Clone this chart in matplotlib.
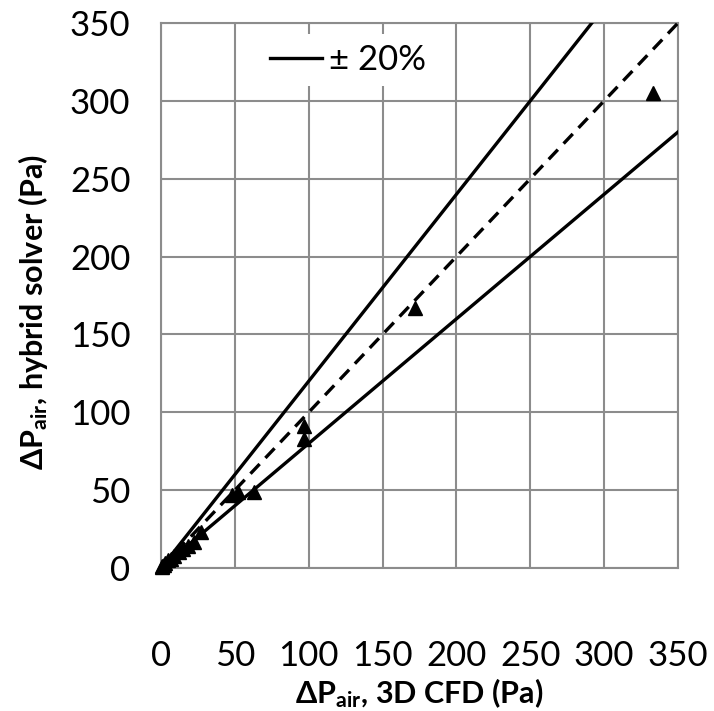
import numpy as np
import matplotlib.pyplot as plt

plt.rcParams['font.family'] = ['Lato', 'DejaVu Sans']
plt.rcParams['mathtext.fontset'] = 'custom'
plt.rcParams['mathtext.rm'] = 'Lato'
plt.rcParams['mathtext.bf'] = 'Lato:bold'

# pressure drop: 3D CFD vs hybrid solver (Pa)
cfd = [0.5, 1, 2, 3, 5, 7, 9, 12, 15, 18, 22, 27, 48, 52, 63, 97, 97, 172, 333]
hybrid = [0.5, 1, 2, 3, 5, 6, 8, 10, 12, 14, 17, 23, 47, 49, 49, 83, 91, 167, 305]
ticks = [0, 50, 100, 150, 200, 250, 300, 350]

fig = plt.figure(figsize=(7.14, 7.11), dpi=100)
ax = fig.add_axes([0.2255, 0.2011, 0.7241, 0.7666])

grid_c = '#8c8c8c'
ax.set_xlim(0, 350)
ax.set_ylim(0, 350)
ax.set_xticks(ticks)
ax.set_yticks(ticks)
ax.grid(True, color=grid_c, lw=1.5, zorder=0)
ax.set_axisbelow(True)
for s in ax.spines.values():
    s.set_color(grid_c)
    s.set_linewidth(1.5)
ax.tick_params(length=0, labelsize=25)
ax.tick_params(axis='x', pad=52)
ax.tick_params(axis='y', pad=22)

xl = np.array([0, 350])
ax.plot(xl, xl, 'k--', lw=2.4, dashes=(4, 2.5), zorder=3)
ax.plot(xl, 1.2 * xl, 'k-', lw=2.4, zorder=3, label='± 20%')
ax.plot(xl, 0.8 * xl, 'k-', lw=2.4, zorder=3)
ax.plot(cfd, hybrid, '^', color='black', ms=10, ls='none', zorder=4, clip_on=False)

leg = ax.legend(loc='center', bbox_to_anchor=(0.362, 0.932), fontsize=25,
                handlelength=1.5, handletextpad=0.2, frameon=True,
                fancybox=False, borderpad=0.3)
leg.get_frame().set_facecolor('white')
leg.get_frame().set_edgecolor('none')
leg.get_frame().set_alpha(1)

ax.set_xlabel(r'$\mathbf{\Delta P_{air}}$, 3D CFD (Pa)', fontsize=22, fontweight='bold')
ax.set_ylabel(r'$\mathbf{\Delta P_{air}}$, hybrid solver (Pa)', fontsize=22, fontweight='bold')
ax.xaxis.set_label_coords(0.5, -0.198)
ax.yaxis.set_label_coords(-0.215, 0.47)

fig.savefig('out.png', dpi=100)
